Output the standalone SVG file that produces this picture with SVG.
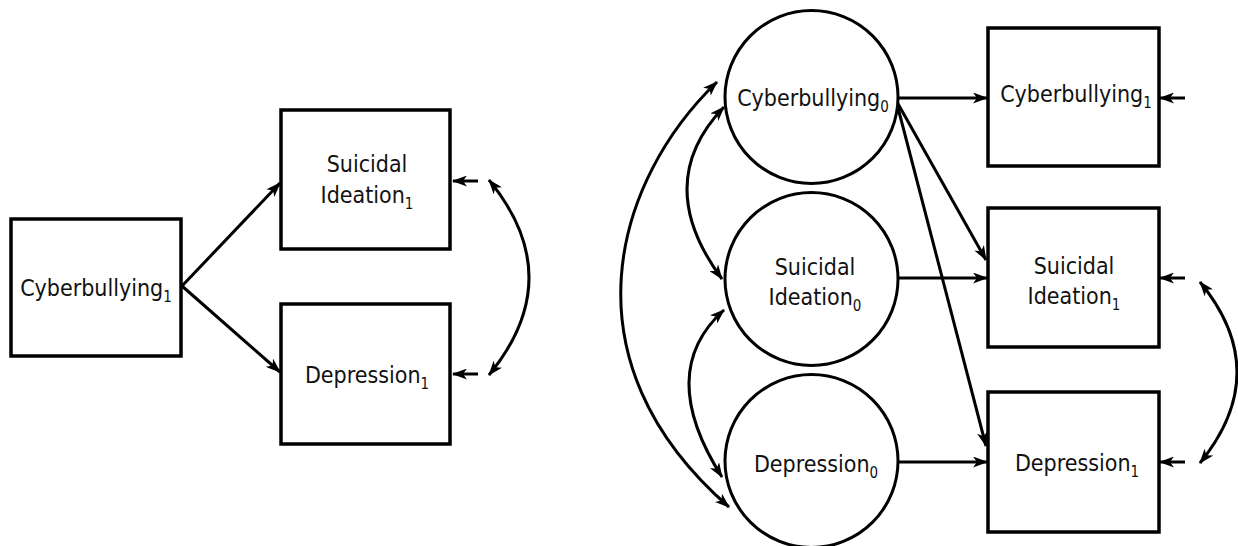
<svg xmlns="http://www.w3.org/2000/svg" width="1238" height="546" viewBox="0 0 1238 546">
<style>
  .box { fill: #ffffff; stroke: #000000; stroke-width: 3.5; }
  .lat { fill: #ffffff; stroke: #000000; stroke-width: 3; }
  .lbl { font-family: "DejaVu Sans Condensed", "DejaVu Sans", sans-serif; font-size: 23px; fill: #111111; text-anchor: middle; }
  .sub { font-size: 15px; }
  .path { fill: none; stroke: #000000; stroke-width: 3; marker-end: url(#ah); }
  .cov { fill: none; stroke: #000000; stroke-width: 3; marker-start: url(#ah); marker-end: url(#ah); }
</style>
<defs>
  <marker id="ah" markerUnits="userSpaceOnUse" viewBox="0 0 15 11" refX="14" refY="5.5" markerWidth="15" markerHeight="11" orient="auto-start-reverse">
    <path d="M0,0 L15,5.5 L0,11 L4,5.5 z" fill="#000000"/>
  </marker>
</defs>
<rect width="1238" height="546" fill="#ffffff"/>

<g id="connectors">
  <!-- left panel -->
  <line class="path" x1="182" y1="286" x2="280" y2="183"/>
  <line class="path" x1="182" y1="286" x2="280" y2="372"/>
  <line class="path" x1="478" y1="181" x2="453" y2="181"/>
  <line class="path" x1="478" y1="374" x2="453" y2="374"/>
  <path class="cov" d="M489,180 Q569,277.5 489,375"/>
  <!-- right panel -->
  <line class="path" x1="898" y1="98" x2="987" y2="98"/>
  <line class="path" x1="897" y1="102" x2="986" y2="260"/>
  <line class="path" x1="897" y1="104" x2="986" y2="446"/>
  <line class="path" x1="898" y1="278" x2="987" y2="278"/>
  <line class="path" x1="898" y1="462" x2="987" y2="462"/>
  <line class="path" x1="1185" y1="98" x2="1160" y2="98"/>
  <line class="path" x1="1185" y1="278" x2="1160" y2="278"/>
  <line class="path" x1="1185" y1="462" x2="1160" y2="462"/>
  <path class="cov" d="M1200,282 Q1274,372 1200,463"/>
  <path class="cov" d="M717,82 C615,180 560,360 729,507"/>
  <path class="cov" d="M724,107 Q651,183 722,279"/>
  <path class="cov" d="M724,310 Q655,372 722,477"/>
</g>

<g id="left-cyberbullying1">
  <rect class="box" x="11" y="219" width="170" height="137"/>
  <text class="lbl" x="96" y="296">Cyberbullying<tspan class="sub" dy="6">1</tspan></text>
</g>
<g id="left-suicidal-ideation1">
  <rect class="box" x="281" y="110" width="169" height="139"/>
  <text class="lbl" x="367" y="172">Suicidal</text>
  <text class="lbl" x="367" y="203">Ideation<tspan class="sub" dy="6">1</tspan></text>
</g>
<g id="left-depression1">
  <rect class="box" x="281" y="304" width="169" height="140"/>
  <text class="lbl" x="367" y="383">Depression<tspan class="sub" dy="6">1</tspan></text>
</g>

<g id="cyberbullying0">
  <circle class="lat" cx="811.5" cy="97" r="86.5"/>
  <text class="lbl" x="813" y="106">Cyberbullying<tspan class="sub" dy="6">0</tspan></text>
</g>
<g id="suicidal-ideation0">
  <circle class="lat" cx="811.5" cy="279" r="86.5"/>
  <text class="lbl" x="815" y="275">Suicidal</text>
  <text class="lbl" x="815" y="305">Ideation<tspan class="sub" dy="6">0</tspan></text>
</g>
<g id="depression0">
  <circle class="lat" cx="811.5" cy="461" r="86.5"/>
  <text class="lbl" x="816" y="472">Depression<tspan class="sub" dy="6">0</tspan></text>
</g>

<g id="right-cyberbullying1">
  <rect class="box" x="988" y="28" width="171" height="138"/>
  <text class="lbl" x="1076" y="102">Cyberbullying<tspan class="sub" dy="6">1</tspan></text>
</g>
<g id="right-suicidal-ideation1">
  <rect class="box" x="988" y="208" width="171" height="139"/>
  <text class="lbl" x="1074" y="274">Suicidal</text>
  <text class="lbl" x="1074" y="304">Ideation<tspan class="sub" dy="6">1</tspan></text>
</g>
<g id="right-depression1">
  <rect class="box" x="988" y="392" width="171" height="140"/>
  <text class="lbl" x="1077" y="471">Depression<tspan class="sub" dy="6">1</tspan></text>
</g>
</svg>
